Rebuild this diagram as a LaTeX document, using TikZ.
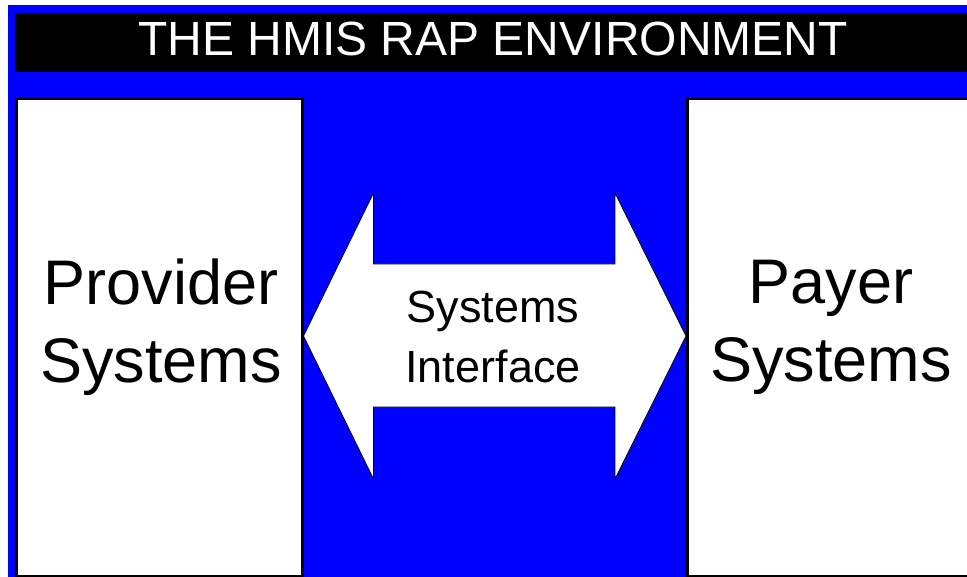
\documentclass[tikz,border=0pt]{standalone}
\usepackage{fontspec}
\setmainfont{Liberation Sans}
\usetikzlibrary{calc}
\definecolor{rapblue}{rgb}{0,0,1}

\begin{document}
\begin{tikzpicture}[x=1pt,y=-1pt,
    sysbox/.style={draw=black,line width=2.5pt,fill=white,inner sep=0pt,anchor=north west},
    bigtext/.style={font=\fontsize{63}{78}\selectfont,align=center}]

    \clip (0,0) rectangle (967,577);
    \fill[rapblue] (8,5) rectangle (967,577);% background

    % title bar across the top
    \node[fill=black,inner sep=0pt,minimum width=960pt,minimum height=59pt,anchor=north west] (bar) at (15,13) {};
    \node[text=white,font=\fontsize{48}{56}\selectfont,anchor=base] (title) at (493,56) {THE HMIS RAP ENVIRONMENT};

    % the two sides
    \node[sysbox,minimum width=286pt,minimum height=477pt] (provider) at (15,98) {};
    \node[sysbox,minimum width=300pt,minimum height=477pt] (payer) at (686,98) {};
    \node[bigtext] (provtext) at (161,327) {Provider\\Systems};
    \node[bigtext] (paytext) at (831,327) {Payer\\Systems};

    % double arrow between them
    \coordinate (ltip) at (provider.east |- 0,336);
    \coordinate (rtip) at (payer.west |- 0,336);
    \filldraw[fill=white,draw=black,line width=0.8pt] (ltip) -- ++(70,-143) -- ++(0,71)
        -- ($(rtip)+(-71,-72)$) -- ++(0,-71) -- (rtip) -- ++(-71,143) -- ++(0,-72)
        -- ($(ltip)+(70,71)$) -- ++(0,72) -- cycle;
    \node[font=\fontsize{45}{60}\selectfont,align=center] (iface) at (493,337) {Systems\\Interface};

\end{tikzpicture}
\end{document}
